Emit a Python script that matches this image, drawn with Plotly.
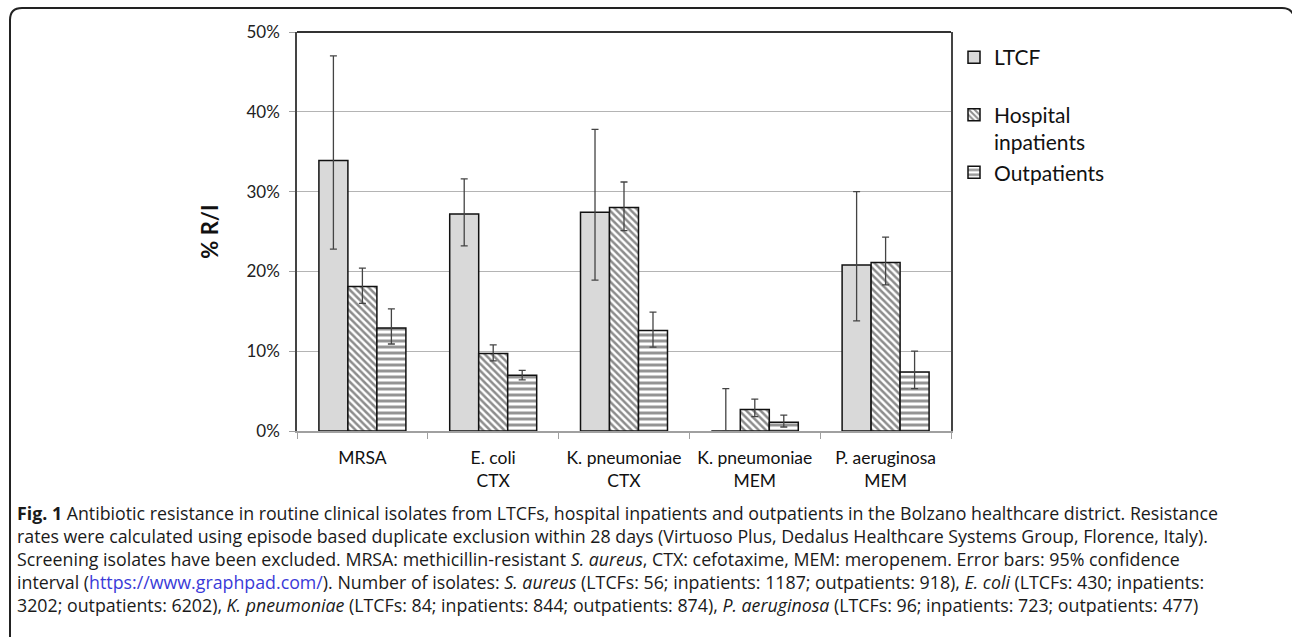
import plotly.graph_objects as go

categories = ["MRSA", "E. coli<br>CTX", "K. pneumoniae<br>CTX", "K. pneumoniae<br>MEM", "P. aeruginosa<br>MEM"]
series_names = ["LTCF", "Hospital<br>inpatients", "Outpatients"]

ltcf = [33.9, 27.2, 27.4, 0.0, 20.8]
ltcf_hi = [47.0, 31.6, 37.8, 5.3, 30.0]
ltcf_lo = [22.8, 23.2, 18.9, 0.0, 13.8]

hosp = [18.1, 9.7, 28.0, 2.7, 21.1]
hosp_hi = [20.4, 10.8, 31.2, 4.0, 24.3]
hosp_lo = [16.0, 8.8, 25.1, 1.8, 18.3]

outp = [12.9, 7.0, 12.6, 1.1, 7.4]
outp_hi = [15.3, 7.6, 14.9, 2.0, 10.0]
outp_lo = [10.9, 6.4, 10.5, 0.5, 5.3]

y_ticks = [0, 10, 20, 30, 40, 50]
y_ticklabels = ["0%", "10%", "20%", "30%", "40%", "50%"]

caption_lines = [
    "<b>Fig. 1</b> Antibiotic resistance in routine clinical isolates from LTCFs, hospital inpatients and outpatients in the Bolzano healthcare district. Resistance",
    "rates were calculated using episode based duplicate exclusion within 28 days (Virtuoso Plus, Dedalus Healthcare Systems Group, Florence, Italy).",
    "Screening isolates have been excluded. MRSA: methicillin-resistant <i>S. aureus</i>, CTX: cefotaxime, MEM: meropenem. Error bars: 95% confidence",
    "interval (<span style='color:#3a3ad8'>https://www.graphpad.com/</span>). Number of isolates: <i>S. aureus</i> (LTCFs: 56; inpatients: 1187; outpatients: 918), <i>E. coli</i> (LTCFs: 430; inpatients:",
    "3202; outpatients: 6202), <i>K. pneumoniae</i> (LTCFs: 84; inpatients: 844; outpatients: 874), <i>P. aeruginosa</i> (LTCFs: 96; inpatients: 723; outpatients: 477)",
]

W, H = 1292, 637
L, R, T, B = 297, 951, 32, 431  # plot area in px


def px(x):
    return (x - L) / (R - L)


def py(y):
    return (B - y) / (B - T)


fig = go.Figure()

specs = [
    (series_names[0] + "<br>&nbsp;", ltcf, ltcf_hi, ltcf_lo, dict(color="#d9d9d9")),
    (series_names[1], hosp, hosp_hi, hosp_lo,
     dict(color="white", pattern=dict(shape="\\", fgcolor="#1a1a1a", bgcolor="white", size=5, solidity=0.5))),
    (series_names[2], outp, outp_hi, outp_lo,
     dict(color="white", pattern=dict(shape="-", fgcolor="#2a2a2a", bgcolor="white", size=6, solidity=0.5))),
]

for name, vals, hi, lo, mk in specs:
    mk = dict(mk)
    mk["line"] = dict(color="#111111", width=1.5)
    fig.add_trace(go.Bar(
        x=categories, y=vals, name=name, marker=mk,
        error_y=dict(type="data", symmetric=False,
                     array=[h - v for h, v in zip(hi, vals)],
                     arrayminus=[v - l for v, l in zip(vals, lo)],
                     color="#444444", thickness=1.3, width=3.5),
    ))

fig.update_layout(
    width=W, height=H,
    margin=dict(l=L, r=W - R, t=T, b=H - B),
    plot_bgcolor="white", paper_bgcolor="white",
    barmode="group", bargap=0.335, bargroupgap=0,
    font=dict(family="Lato, Open Sans, sans-serif", color="#222222"),
    showlegend=True,
    legend=dict(x=px(954), y=py(37), xanchor="left", yanchor="top",
                font=dict(size=21, family="Lato, sans-serif", color="#111111"),
                valign="top", itemwidth=30, tracegroupgap=0,
                bgcolor="rgba(0,0,0,0)"),
)

fig.update_xaxes(
    type="category", showgrid=False,
    showline=True, linecolor="#a0a0a0", linewidth=1.5,
    ticks="outside", tickson="boundaries", ticklen=6, tickcolor="#a0a0a0",
    tickfont=dict(size=17.5, family="Lato, sans-serif", color="#111111"),
    ticklabelstandoff=10,
)

fig.update_yaxes(
    range=[0, 50], tickvals=y_ticks, ticktext=y_ticklabels,
    showgrid=True, gridcolor="#b4b4b4", gridwidth=1.2,
    showline=True, linecolor="#444444", linewidth=1.5, mirror=True,
    ticks="outside", ticklen=6, tickcolor="#a0a0a0",
    tickfont=dict(size=17, family="Lato, sans-serif", color="#222222"),
    ticklabelstandoff=6,
    title=dict(text="<b>% R/I</b>", font=dict(size=22, family="Lato, sans-serif", color="#111111"), standoff=22),
    zeroline=False,
)

# top border of plot area (dark)
fig.add_shape(type="line", xref="paper", yref="paper", x0=0, x1=1, y0=1, y1=1,
              line=dict(color="#333333", width=2))

# rounded outer figure frame
path = (f"M {px(10)},{py(640)} L {px(10)},{py(20)} Q {px(10)},{py(8)} {px(22)},{py(8)} "
        f"L {px(1282)},{py(8)} Q {px(1290)},{py(8)} {px(1293)},{py(14)}")
fig.add_shape(type="path", xref="paper", yref="paper", path=path,
              line=dict(color="#222222", width=2))

caption_y = [513, 536, 559, 582, 605]
for txt, yy in zip(caption_lines, caption_y):
    fig.add_annotation(text=txt, xref="paper", yref="paper", x=px(15), y=py(yy),
                       xanchor="left", yanchor="middle", showarrow=False, align="left",
                       font=dict(size=17.8, family="Open Sans, sans-serif", color="#1a1a1a"))

fig.write_html("out.html", config={"displayModeBar": False},
               post_script="document.body.style.margin='0';document.body.style.padding='0';")
